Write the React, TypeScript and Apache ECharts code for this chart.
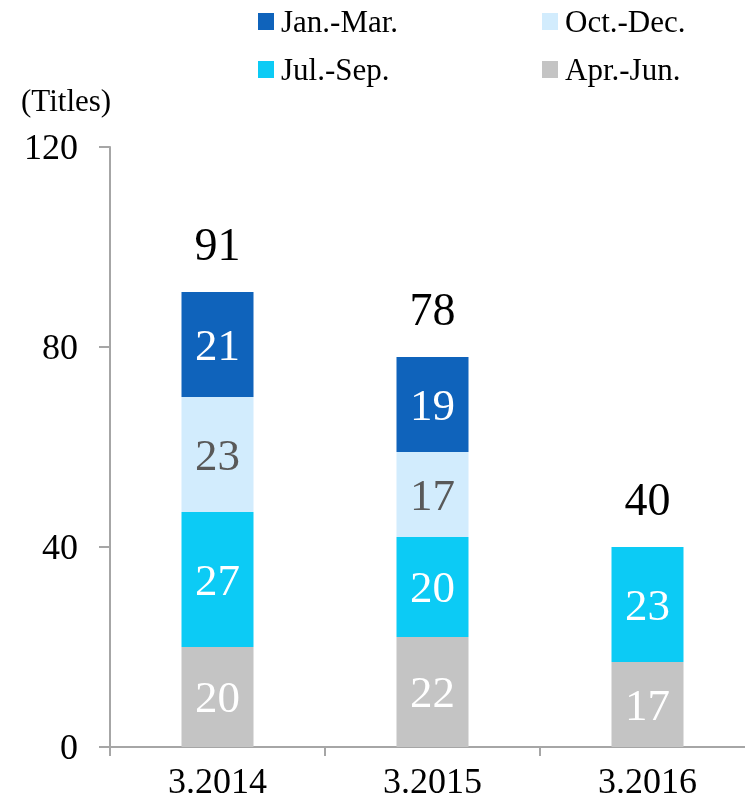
import React, { useEffect, useRef } from "react";
import * as echarts from "echarts";

const categories = ["3.2014", "3.2015", "3.2016"];
const aprJun = [20, 22, 17];
const julSep = [27, 20, 23];
const octDec: (number | null)[] = [23, 17, null];
const janMar: (number | null)[] = [21, 19, null];
const yTicks = { min: 0, max: 120, interval: 40 };

const FONT = "Liberation Serif";

export default function App() {
  const ref = useRef<HTMLDivElement>(null);
  useEffect(() => {
    if (!ref.current) return;
    const chart = echarts.init(ref.current, null, { renderer: "svg" });
    const totals = categories.map(
      (_, i) => (aprJun[i] || 0) + (julSep[i] || 0) + (octDec[i] || 0) + (janMar[i] || 0)
    );
    const BW = 72;
    const mk = (name: string, data: (number | null)[], color: string, labelColor: string) => ({
      name,
      type: "bar",
      stack: "q",
      data,
      barWidth: BW,
      itemStyle: { color },
      label: {
        show: true,
        position: "inside",
        color: labelColor,
        fontSize: 45,
        fontFamily: FONT,
        formatter: (p: any) => (p.value == null ? "" : String(p.value)),
      },
    });
    const legendBase = {
      orient: "horizontal",
      icon: "rect",
      itemWidth: 16,
      itemHeight: 17,
      padding: 0,
      selectedMode: false,
      textStyle: { fontSize: 31, fontFamily: FONT, color: "#000", padding: [0, 0, 0, 2] },
    };
    chart.setOption({
      animation: false,
      textStyle: { fontFamily: FONT },
      legend: [
        { ...legendBase, data: ["Jan.-Mar."], left: 258, top: 6 },
        { ...legendBase, data: ["Oct.-Dec."], left: 542, top: 6 },
        { ...legendBase, data: ["Jul.-Sep."], left: 258, top: 54 },
        { ...legendBase, data: ["Apr.-Jun."], left: 542, top: 54 },
      ],
      graphic: [
        {
          type: "text",
          left: 21,
          top: 85,
          style: { text: "(Titles)", fontSize: 31, fontFamily: FONT, fill: "#000" },
        },
      ],
      grid: { left: 110, top: 147, width: 645, height: 600, containLabel: false },
      xAxis: {
        type: "category",
        data: categories,
        axisLine: { lineStyle: { color: "#a6a6a6", width: 2 } },
        axisTick: { show: true, length: 9, lineStyle: { color: "#a6a6a6", width: 2 } },
        axisLabel: { fontSize: 36, fontFamily: FONT, color: "#000", margin: 16 },
      },
      yAxis: {
        type: "value",
        min: yTicks.min,
        max: yTicks.max,
        interval: yTicks.interval,
        axisLine: { show: true, lineStyle: { color: "#a6a6a6", width: 2 } },
        axisTick: { show: true, length: 11, lineStyle: { color: "#a6a6a6", width: 2 } },
        splitLine: { show: false },
        axisLabel: { fontSize: 36, fontFamily: FONT, color: "#000", margin: 32 },
      },
      series: [
        mk("Apr.-Jun.", aprJun, "#c4c4c4", "#ffffff"),
        mk("Jul.-Sep.", julSep, "#0ccbf5", "#ffffff"),
        mk("Oct.-Dec.", octDec, "#d2ecfd", "#595959"),
        mk("Jan.-Mar.", janMar, "#0f63bb", "#ffffff"),
        {
          name: "Total",
          type: "bar",
          data: totals,
          barWidth: BW,
          barGap: "-100%",
          itemStyle: { color: "rgba(0,0,0,0)" },
          silent: true,
          label: {
            show: true,
            position: "top",
            distance: 25,
            color: "#000",
            fontSize: 46,
            fontFamily: FONT,
          },
        },
      ],
    });
    return () => chart.dispose();
  }, []);
  return (
    <div
      style={{
        position: "fixed",
        left: 0,
        top: 0,
        width: 745,
        height: 800,
        overflow: "hidden",
      }}
    >
      <div ref={ref} style={{ width: 760, height: 800 }} />
    </div>
  );
}
